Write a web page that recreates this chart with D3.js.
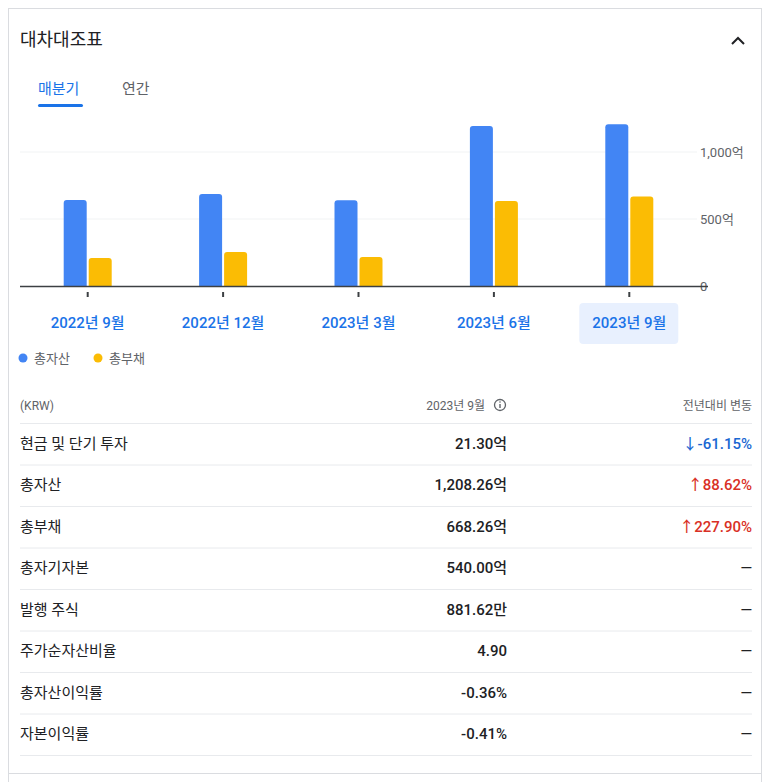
<!DOCTYPE html>
<html><head><meta charset="utf-8">
<script src="https://cdn.jsdelivr.net/npm/d3@7"></script>
<style>body{margin:0;background:#fff;font-family:Roboto,"Noto Sans CJK KR",sans-serif}</style>
</head><body><svg id="c" width="770" height="782"></svg>
<script>
const categories=["2022년 9월","2022년 12월","2023년 3월","2023년 6월","2023년 9월"];
const totalAssets=[642,687,640,1194,1208];
const totalLiab=[209,254,216,634,668];
const seriesNames=["총자산","총부채"];
const yTicks=[0,500,1000];
const rowLabels=["현금 및 단기 투자","총자산","총부채","총자기자본","발행 주식","주가순자산비율","총자산이익률","자본이익률"];
const rowValues=["21.30억","1,208.26억","668.26억","540.00억","881.62만","4.90","-0.36%","-0.41%"];
const rowChanges=["↓-61.15%","↑88.62%","↑227.90%","—","—","—","—","—"];
const font='Roboto,"Noto Sans CJK KR",sans-serif';
const svg=d3.select("#c");
svg.append("rect").attr("x",8.5).attr("y",8.5).attr("width",753).attr("height",790).attr("fill","none").attr("stroke","#dadce0");
svg.append("text").attr("x",20).attr("y",46).text("대차대조표").attr("font-size",18).attr("fill","#202124").attr("font-family",font);
svg.append("path").attr("d","M732,44 L738,38 L744,44").attr("fill","none").attr("stroke","#202124").attr("stroke-width",2);
svg.append("text").attr("x",38).attr("y",94).text("매분기").attr("font-size",15).attr("fill","#1a73e8").attr("font-family",font);
svg.append("rect").attr("x",38).attr("y",104).attr("width",45).attr("height",3).attr("rx",1.5).attr("fill","#1a73e8");
svg.append("text").attr("x",122).attr("y",94).text("연간").attr("font-size",15).attr("fill","#5f6368").attr("font-family",font);

const x=d3.scaleBand().domain(categories).range([20,697]).padding(0);
const y=d3.scaleLinear().domain([0,1000]).range([286,152]);
const g=svg.append("g");
yTicks.forEach(t=>{
  if(t>0) g.append("line").attr("x1",20).attr("x2",697).attr("y1",y(t)).attr("y2",y(t)).attr("stroke","#f1f3f4");
});
const ya=d3.axisRight(y).tickValues(yTicks).tickSize(0).tickPadding(0).tickFormat(d=>d===0?"0":d3.format(",")(d)+"억");
const yg=svg.append("g").attr("transform","translate(700,0)").call(ya);
yg.select(".domain").remove();
yg.selectAll("text").attr("font-size",13).attr("fill","#5f6368").attr("font-family",font);
const bw=23;
g.selectAll(".a").data(categories).join("path").attr("fill","#4285f4")
 .attr("d",(d,i)=>{const cx=x(d)+x.bandwidth()/2;const x0=cx-bw-1,t=y(totalAssets[i]),r=3;return `M${x0},286V${t+r}Q${x0},${t} ${x0+r},${t}H${x0+bw-r}Q${x0+bw},${t} ${x0+bw},${t+r}V286Z`;});
g.selectAll(".b").data(categories).join("path").attr("fill","#fbbc04")
 .attr("d",(d,i)=>{const cx=x(d)+x.bandwidth()/2;const x0=cx+1,t=y(totalLiab[i]),r=3;return `M${x0},286V${t+r}Q${x0},${t} ${x0+r},${t}H${x0+bw-r}Q${x0+bw},${t} ${x0+bw},${t+r}V286Z`;});
svg.append("line").attr("x1",20).attr("x2",708).attr("y1",286.5).attr("y2",286.5).attr("stroke","#3c4043").attr("stroke-width",1.5);
const xa=d3.axisBottom(x).tickSize(0).tickFormat(()=>"");
svg.append("g").attr("transform","translate(0,286)").call(xa).select(".domain").remove();
categories.forEach((c,i)=>{
  const cx=x(c)+x.bandwidth()/2;
  svg.append("line").attr("x1",cx).attr("x2",cx).attr("y1",292).attr("y2",297).attr("stroke","#3c4043").attr("stroke-width",2);
  if(i===4) svg.append("rect").attr("x",cx-50).attr("y",303).attr("width",99).attr("height",41).attr("rx",4).attr("fill","#e8f0fe");
  svg.append("text").attr("x",cx).attr("y",328).attr("text-anchor","middle").text(c).attr("font-size",15).attr("font-weight",500).attr("fill","#1a73e8").attr("font-family",font);
});
const lc=["#4285f4","#fbbc04"];
[[23,seriesNames[0]],[98,seriesNames[1]]].forEach(([lx,n],i)=>{
  svg.append("circle").attr("cx",lx).attr("cy",358).attr("r",4.5).attr("fill",lc[i]);
  svg.append("text").attr("x",lx+11).attr("y",363).text(n).attr("font-size",13).attr("fill","#5f6368").attr("font-family",font);
});
// table
svg.append("text").attr("x",20).attr("y",410).text("(KRW)").attr("font-size",12).attr("fill","#5f6368").attr("font-family",font);
svg.append("text").attr("x",485).attr("y",410).attr("text-anchor","end").text("2023년 9월").attr("font-size",12).attr("fill","#5f6368").attr("font-family",font);
svg.append("circle").attr("cx",500).attr("cy",405).attr("r",5.5).attr("fill","none").attr("stroke","#5f6368").attr("stroke-width",1.3);
svg.append("rect").attr("x",499.3).attr("y",404).attr("width",1.4).attr("height",4).attr("fill","#5f6368");
svg.append("circle").attr("cx",500).attr("cy",402).attr("r",0.8).attr("fill","#5f6368");
svg.append("text").attr("x",752).attr("y",410).attr("text-anchor","end").text("전년대비 변동").attr("font-size",12).attr("fill","#5f6368").attr("font-family",font);
const rowY=d3.scaleBand().domain(rowLabels).range([423,755]);
svg.append("line").attr("x1",20).attr("x2",752).attr("y1",423.5).attr("y2",423.5).attr("stroke","#e8eaed");
rowLabels.forEach((l,i)=>{
  const yy=rowY(l), m=yy+rowY.bandwidth()/2+5;
  svg.append("line").attr("x1",20).attr("x2",752).attr("y1",yy+rowY.bandwidth()+0.5).attr("y2",yy+rowY.bandwidth()+0.5).attr("stroke","#e8eaed");
  svg.append("text").attr("x",20).attr("y",m).text(l).attr("font-size",15).attr("fill","#202124").attr("font-family",font);
  svg.append("text").attr("x",507).attr("y",m).attr("text-anchor","end").text(rowValues[i]).attr("font-size",15).attr("font-weight",500).attr("fill","#202124").attr("font-family",font);
  const ch=rowChanges[i];
  const col=ch.startsWith("↓")?"#1967d2":ch.startsWith("↑")?"#d93025":"#202124";
  svg.append("text").attr("x",752).attr("y",m).attr("text-anchor","end").text(ch).attr("font-size",15).attr("font-weight",500).attr("fill",col).attr("font-family",font);
});
svg.append("line").attr("x1",8).attr("x2",762).attr("y1",773.5).attr("y2",773.5).attr("stroke","#dadce0");
</script></body></html>
